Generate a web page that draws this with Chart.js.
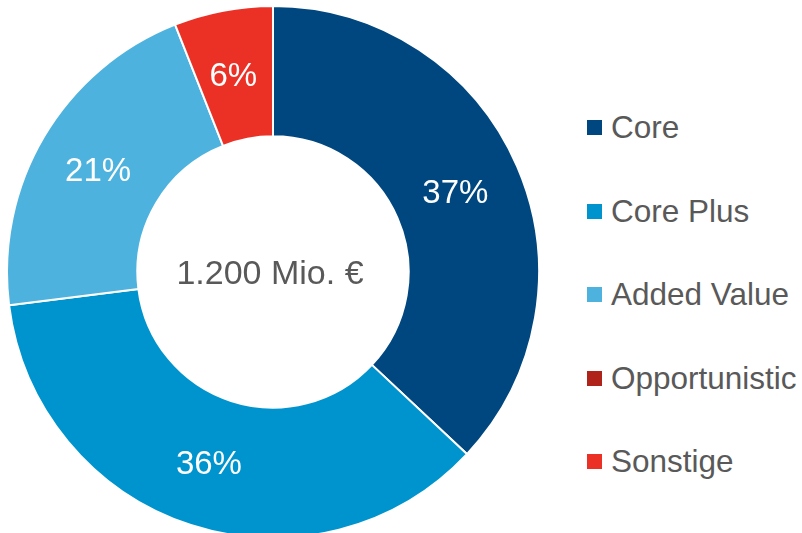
<!DOCTYPE html>
<html>
<head>
<meta charset="utf-8">
<script src="https://cdn.jsdelivr.net/npm/chart.js@4"></script>
<style>
    html, body { margin: 0; padding: 0; background: #fff; overflow: hidden; width: 802px; height: 533px; }
    #wrap { position: absolute; left: 6px; top: 5px; width: 534px; height: 534px; }
    #legend { position: absolute; left: 587px; top: 0; font-family: "Liberation Sans", Arial, sans-serif; font-size: 31.5px; color: #595959; }
    .legend-item { position: absolute; left: 0; white-space: nowrap; height: 36px; line-height: 36px; }
    .legend-box { display: inline-block; width: 15px; height: 15px; vertical-align: middle; margin-right: 9px; position: relative; top: -2px; }
</style>
</head>
<body>
<div id="wrap"><canvas id="chart" width="534" height="534"></canvas></div>
<div id="legend"></div>
<script>
// Chart data
const labels = ['Core', 'Core Plus', 'Added Value', 'Opportunistic', 'Sonstige'];
const shares = [37, 36, 21, 0, 6];
const colors = ['#00477f', '#0094cf', '#4db2de', '#b0231b', '#eb3125'];
const centerText = '1.200 Mio. €';

// Percentage labels inside the slices + total in the middle
const sliceLabels = {
    id: 'sliceLabels',
    afterDraw(chart) {
        const ctx = chart.ctx;
        const meta = chart.getDatasetMeta(0);
        ctx.save();
        ctx.textAlign = 'center';
        ctx.textBaseline = 'middle';
        ctx.font = '33px "Liberation Sans", Arial, sans-serif';
        ctx.fillStyle = '#ffffff';
        meta.data.forEach((arc, i) => {
            if (!shares[i]) return;
            const p = arc.tooltipPosition();
            ctx.fillText(shares[i] + '%', p.x - 2, p.y + 2);
        });
        const a = meta.data[0];
        ctx.font = '34px "Liberation Sans", Arial, sans-serif';
        ctx.fillStyle = '#595959';
        ctx.fillText(centerText, a.x - 3, a.y + 3);
        ctx.restore();
    }
};

new Chart(document.getElementById('chart'), {
    type: 'doughnut',
    data: {
        labels: labels,
        datasets: [{
            data: shares,
            backgroundColor: colors,
            borderColor: '#ffffff',
            borderWidth: 2
        }]
    },
    options: {
        responsive: false,
        animation: false,
        cutout: '51%',
        plugins: {
            legend: { display: false },
            tooltip: { enabled: false }
        }
    },
    plugins: [sliceLabels]
});

// Legend built from the same arrays
const legendTops = [127, 211, 294, 378, 461];
const legend = document.getElementById('legend');
labels.forEach((label, i) => {
    const item = document.createElement('div');
    item.className = 'legend-item';
    item.style.top = (legendTops[i] - 18) + 'px';
    item.innerHTML = '<span class="legend-box" style="background:' + colors[i] + '"></span>' + label;
    legend.appendChild(item);
});
</script>
</body>
</html>
